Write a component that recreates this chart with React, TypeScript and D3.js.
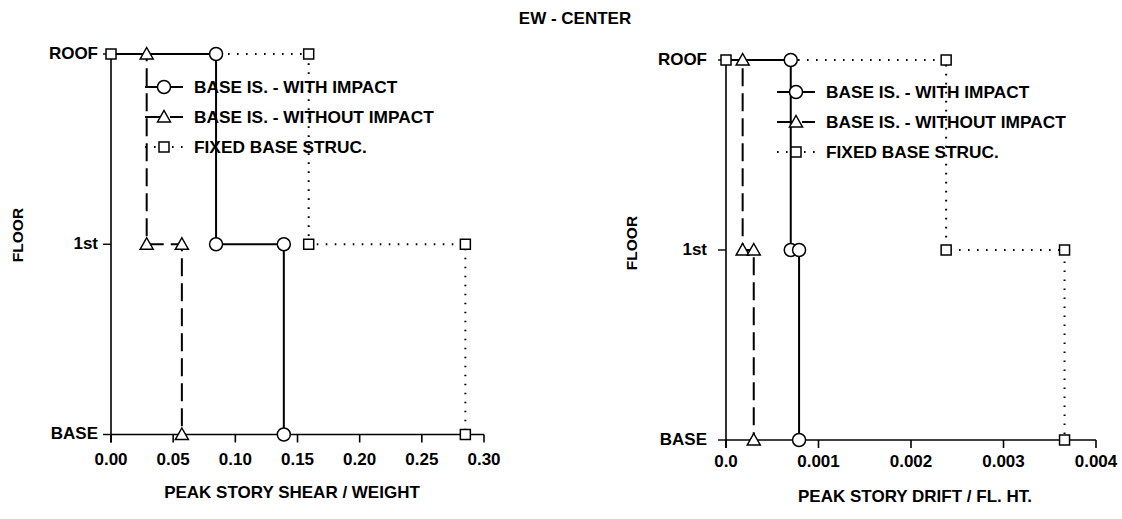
import React from "react";
import * as d3 from "d3";

// ---------- DATA ----------
const floorLevels = ["ROOF", "1st", "BASE"];
const seriesNames = ["BASE IS. - WITH IMPACT", "BASE IS. - WITHOUT IMPACT", "FIXED BASE STRUC."];
// values per story: [roof story, 1st story]
const shearWithImpact = [0.0845, 0.139];
const shearWithoutImpact = [0.0287, 0.057];
const shearFixedBase = [0.159, 0.285];
const driftWithImpact = [0.0007, 0.00079];
const driftWithoutImpact = [0.00018, 0.0003];
const driftFixedBase = [0.00238, 0.00366];
const shearTicks = [0, 0.05, 0.1, 0.15, 0.2, 0.25, 0.3];
const shearTickLabels = ["0.00", "0.05", "0.10", "0.15", "0.20", "0.25", "0.30"];
const driftTicks = [0, 0.001, 0.002, 0.003, 0.004];
const driftTickLabels = ["0.0", "0.001", "0.002", "0.003", "0.004"];
const chartTitle = "EW - CENTER";
const shearAxisTitle = "PEAK STORY SHEAR / WEIGHT";
const driftAxisTitle = "PEAK STORY DRIFT / FL. HT.";
const yAxisTitle = "FLOOR";

const FONT = "'Liberation Sans', Arial, Helvetica, sans-serif";
const styles = [
  { marker: "circle", dash: null as string | null },
  { marker: "triangle", dash: "18,7" },
  { marker: "square", dash: "1.6,7.4" },
];

function Marker({ kind, x, y }: { kind: string; x: number; y: number }) {
  const common = { fill: "#fff", stroke: "#000", strokeWidth: 1.5 };
  if (kind === "circle") return <circle cx={x} cy={y} r={6.5} {...common} />;
  if (kind === "triangle")
    return <path d={`M${x},${y - 6.5}L${x + 6.5},${y + 5}L${x - 6.5},${y + 5}Z`} {...common} />;
  return <rect x={x - 5} y={y - 5} width={10} height={10} {...common} />;
}

type PanelProps = {
  xRange: [number, number];
  yRange: [number, number];
  xDomain: [number, number];
  ticks: number[];
  tickLabels: string[];
  series: number[][];
  yLabelRight: number;
  floorX: number;
  floorY: number;
  axisTitle: string;
  axisTitleX: number;
  axisTitleY: number;
  tickLabelY: number;
  legendX: number;
  legendY: number;
  legendTextX: number;
};

function Panel(p: PanelProps) {
  const x = d3.scaleLinear().domain(p.xDomain).range(p.xRange);
  const y = d3.scalePoint<string>().domain(floorLevels).range(p.yRange);
  const yRoof = y("ROOF")!, yFirst = y("1st")!, yBase = y("BASE")!;
  const line = d3.line<[number, number]>().x((d) => x(d[0])).y((d) => d[1]);
  const paths = p.series.map((v) => {
    const pts: [number, number][] = [
      [0, yRoof],
      [v[0], yRoof],
      [v[0], yFirst],
      [v[1], yFirst],
      [v[1], yBase],
    ];
    return pts;
  });
  const x0 = x(0);
  return (
    <g>
      {/* axes */}
      <line x1={x0} x2={x0} y1={yRoof} y2={yBase + 8} stroke="#000" strokeWidth={1.6} />
      <line x1={x0} x2={x(p.xDomain[1])} y1={yBase} y2={yBase} stroke="#000" strokeWidth={1.6} />
      {p.ticks.map((t, i) => (
        <g key={i}>
          <line x1={x(t)} x2={x(t)} y1={yBase} y2={yBase + 8} stroke="#000" strokeWidth={1.6} />
          <text x={x(t)} y={p.tickLabelY} textAnchor="middle" fontSize={17} fontWeight="bold" fontFamily={FONT}>
            {p.tickLabels[i]}
          </text>
        </g>
      ))}
      {floorLevels.map((f) => (
        <g key={f}>
          <line x1={x0 - 8} x2={x0} y1={y(f)!} y2={y(f)!} stroke="#000" strokeWidth={1.4} />
          <text x={p.yLabelRight} y={y(f)! - 1} textAnchor="end" dominantBaseline="central" fontSize={17} fontWeight="bold" fontFamily={FONT}>
            {f}
          </text>
        </g>
      ))}
      <text
        transform={`translate(${p.floorX},${p.floorY}) rotate(-90)`}
        textAnchor="middle"
        dominantBaseline="central"
        fontSize={15.5}
        fontWeight="bold"
        fontFamily={FONT}
      >
        {yAxisTitle}
      </text>
      <text x={p.axisTitleX} y={p.axisTitleY} textAnchor="middle" fontSize={17} fontWeight="bold" fontFamily={FONT}>
        {p.axisTitle}
      </text>
      {/* series lines */}
      {paths.map((pts, i) => (
        <path
          key={i}
          d={line(pts) || ""}
          fill="none"
          stroke="#000"
          strokeWidth={2}
          strokeDasharray={styles[i].dash || undefined}
        />
      ))}
      {/* markers */}
      {paths.map((pts, i) =>
        pts.map((pt, j) =>
          j === 0 && i !== 2 ? null : <Marker key={`${i}-${j}`} kind={styles[i].marker} x={x(pt[0])} y={pt[1]} />
        )
      )}
      {/* legend */}
      {seriesNames.map((name, i) => {
        const ly = p.legendY + i * 30;
        return (
          <g key={name}>
            <line
              x1={p.legendX - 19}
              x2={p.legendX + 19}
              y1={ly}
              y2={ly}
              stroke="#000"
              strokeWidth={2}
              strokeDasharray={styles[i].dash || undefined}
            />
            <Marker kind={styles[i].marker} x={p.legendX} y={ly} />
            <text x={p.legendTextX} y={ly} dominantBaseline="central" fontSize={17.3} fontWeight="bold" fontFamily={FONT}>
              {name}
            </text>
          </g>
        );
      })}
    </g>
  );
}

export default function App() {
  return (
    <div style={{ position: "absolute", left: 0, top: 0 }}>
      <svg width={1122} height={519} style={{ display: "block", background: "#fff" }}>
        <text x={575} y={24} textAnchor="middle" fontSize={17} fontWeight="bold" fontFamily={FONT}>
          {chartTitle}
        </text>
        <Panel
          xRange={[111, 484]}
          yRange={[54, 434.5]}
          xDomain={[0, 0.3]}
          ticks={shearTicks}
          tickLabels={shearTickLabels}
          series={[shearWithImpact, shearWithoutImpact, shearFixedBase]}
          yLabelRight={98}
          floorX={17}
          floorY={235}
          axisTitle={shearAxisTitle}
          axisTitleX={292}
          axisTitleY={498}
          tickLabelY={465}
          legendX={164}
          legendY={87}
          legendTextX={194}
        />
        <Panel
          xRange={[726, 1096]}
          yRange={[60, 440]}
          xDomain={[0, 0.004]}
          ticks={driftTicks}
          tickLabels={driftTickLabels}
          series={[driftWithImpact, driftWithoutImpact, driftFixedBase]}
          yLabelRight={707}
          floorX={631}
          floorY={243}
          axisTitle={driftAxisTitle}
          axisTitleX={915}
          axisTitleY={502}
          tickLabelY={467}
          legendX={796}
          legendY={92}
          legendTextX={826}
        />
      </svg>
    </div>
  );
}
